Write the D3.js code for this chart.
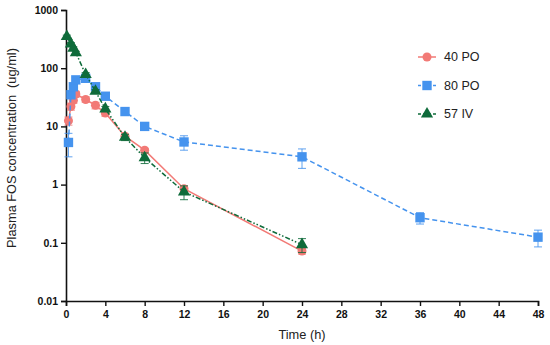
<!DOCTYPE html>
<html><head><meta charset="utf-8">
<script src="https://cdn.jsdelivr.net/npm/d3@7"></script>
<style>body{margin:0;background:#fff}svg{display:block}text{font-family:"Liberation Sans",Arial,sans-serif}</style>
</head><body><svg id="c" width="550" height="345"></svg>
<script>
const t40 = [0.25, 0.5, 0.75, 1, 2, 3, 4, 6, 8, 12, 24];
const c40 = [12.5, 22, 28, 36, 29, 23, 17, 6.8, 3.9, 0.85, 0.072];
const sd40 = [2, 3, 3, 4, 3, 3, 2, 0.6, 0.3, 0.1, 0.008];
const t80 = [0.25, 0.5, 0.75, 1, 2, 3, 4, 6, 8, 12, 24, 36, 48];
const c80 = [5.3, 35, 48, 63, 67, 48, 33, 18, 10, 5.4, 3.0, 0.27, 0.125];
const sd80 = [2.3, 5, 5, 6, 6, 4, 3, 2, 1, 1.5, 1.1, 0.06, 0.04];
const t57 = [0.083, 0.5, 0.75, 1, 2, 3, 4, 6, 8, 12, 24];
const c57 = [350, 260, 220, 185, 78, 40, 20, 6.5, 2.9, 0.75, 0.093];
const sd57 = [20, 15, 12, 10, 6, 3, 2, 0.8, 0.6, 0.2, 0.025];
const xTicks = [0, 4, 8, 12, 16, 20, 24, 28, 32, 36, 40, 44, 48];
const yTicks = [0.01, 0.1, 1, 10, 100, 1000];
const yTickLabels = ["0.01", "0.1", "1", "10", "100", "1000"];
const seriesNames = ["40 PO", "80 PO", "57 IV"];

const svg = d3.select("#c");
const x = d3.scaleLinear().domain([0, 48]).range([66, 538]);
const y = d3.scaleLog().domain([0.01, 1000]).range([301, 10]);

const series = [
  {name: seriesNames[0], t: t40, c: c40, sd: sd40, color: "#f27a76", dash: null, shape: d3.symbolCircle, size: 64},
  {name: seriesNames[1], t: t80, c: c80, sd: sd80, color: "#4593ee", dash: "5,3", shape: d3.symbolSquare, size: 88},
  {name: seriesNames[2], t: t57, c: c57, sd: sd57, color: "#0e6b3a", dash: "5,2,1.5,2,1.5,2", shape: d3.symbolTriangle, size: 64}
];

// axes
const xAxis = d3.axisBottom(x).tickValues(xTicks).tickSize(5).tickFormat(d3.format("d"));
const gx = svg.append("g").attr("transform", "translate(0,301)").call(xAxis);
const yAxis = d3.axisLeft(y).tickValues(yTicks).tickSize(5).tickFormat((d,i) => yTickLabels[i]);
const gy = svg.append("g").attr("transform", "translate(66,0)").call(yAxis);
[gx, gy].forEach(g => {
  g.select(".domain").attr("stroke", "#111").attr("stroke-width", 1.6);
  g.selectAll(".tick line").attr("stroke", "#111").attr("stroke-width", 1.4);
  g.selectAll(".tick text").attr("fill", "#111").attr("font-size", 10.5).attr("font-weight", "bold")
    .attr("font-family", "'Liberation Sans',Arial,sans-serif");
});
gx.selectAll(".tick text").attr("dy", "0.85em");

// lines, error bars, markers
series.forEach(s => {
  const pts = s.t.map((t, i) => ({t, c: s.c[i], sd: s.sd[i]}));
  const g = svg.append("g");
  g.append("path").datum(pts)
    .attr("d", d3.line().x(d => x(d.t)).y(d => y(d.c)))
    .attr("fill", "none").attr("stroke", s.color).attr("stroke-width", 1.5)
    .attr("stroke-dasharray", s.dash);
  pts.forEach(d => {
    const lo = Math.max(d.c - d.sd, 0.011), hi = d.c + d.sd;
    const cx = x(d.t);
    g.append("line").attr("x1", cx).attr("x2", cx).attr("y1", y(lo)).attr("y2", y(hi))
      .attr("stroke", s.color).attr("stroke-width", 1).attr("opacity", 0.85);
    [lo, hi].forEach(v => g.append("line").attr("x1", cx - 4).attr("x2", cx + 4).attr("y1", y(v)).attr("y2", y(v))
      .attr("stroke", s.color).attr("stroke-width", 1).attr("opacity", 0.85));
  });
  g.selectAll("path.m").data(pts).join("path").attr("class", "m")
    .attr("d", d3.symbol().type(s.shape).size(s.size))
    .attr("transform", d => `translate(${x(d.t)},${y(d.c)})`)
    .attr("fill", s.color);
});

// legend
series.forEach((s, i) => {
  const ly = 57 + i * 28.5;
  const g = svg.append("g");
  g.append("line").attr("x1", 418).attr("x2", 436).attr("y1", ly).attr("y2", ly)
    .attr("stroke", s.color).attr("stroke-width", 1.5).attr("stroke-dasharray", s.dash ? "3,2" : null);
  g.append("path").attr("d", d3.symbol().type(s.shape).size(s.size))
    .attr("transform", `translate(427,${ly})`).attr("fill", s.color);
  g.append("text").attr("x", 444).attr("y", ly).attr("dy", "0.35em")
    .attr("font-size", 12.5).attr("fill", "#222").text(s.name);
});

// axis titles
svg.append("text").attr("x", 302).attr("y", 339).attr("text-anchor", "middle")
  .attr("font-size", 12.8).attr("fill", "#222").text("Time (h)");
svg.append("text").attr("transform", "translate(16,148) rotate(-90)").attr("text-anchor", "middle")
  .attr("font-size", 12.8).attr("fill", "#222").attr("xml:space", "preserve").style("white-space", "pre")
  .text("Plasma FOS concentration  (ug/ml)");
</script></body></html>
